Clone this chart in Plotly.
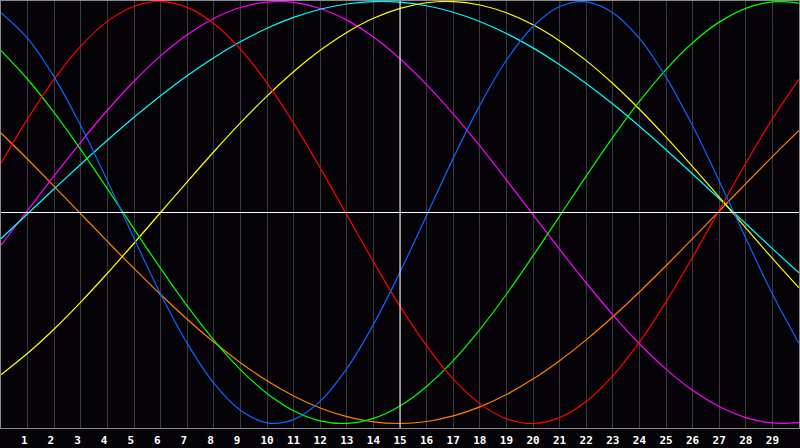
import plotly.graph_objects as go

# Day positions (x) at which the curve values were read
DAYS = list(range(0, 31))

# Curve values at each day 0..30 (range -1..1)
RED = [0.2334, 0.4440, 0.6322, 0.7888, 0.9058, 0.9774, 0.9999, 0.9724, 0.8961, 0.7747,
       0.6147, 0.4237, 0.2115, -0.0112, -0.2334, -0.4440, -0.6322, -0.7888, -0.9058, -0.9774,
       -0.9999, -0.9724, -0.8961, -0.7747, -0.6147, -0.4237, -0.2115, 0.0112, 0.2334, 0.4440, 0.6322]
ORANGE = [0.3766, 0.2525, 0.1240, -0.0065, -0.1370, -0.2651, -0.3887, -0.5057, -0.6140, -0.7117,
          -0.7973, -0.8693, -0.9264, -0.9676, -0.9923, -1.0000, -0.9906, -0.9642, -0.9214, -0.8628,
          -0.7894, -0.7025, -0.6037, -0.4943, -0.3766, -0.2525, -0.1240, 0.0065, 0.1370, 0.2651, 0.3887]
BLUE = [0.9468, 0.8249, 0.6417, 0.4110, 0.1497, -0.1226, -0.3858, -0.6202, -0.8089, -0.9376,
        -0.9966, -0.9818, -0.8942, -0.7399, -0.5313, -0.2830, -0.0138, 0.2565, 0.5078, 0.7215,
        0.8814, 0.9762, 0.9985, 0.9468, 0.8249, 0.6417, 0.4110, 0.1497, -0.1226, -0.3858, -0.6202]
CYAN = [-0.1241, -0.0059, 0.1123, 0.2290, 0.3427, 0.4514, 0.5537, 0.6483, 0.7339, 0.8090,
        0.8729, 0.9245, 0.9631, 0.9881, 0.9994, 0.9966, 0.9798, 0.9492, 0.9053, 0.8487,
        0.7802, 0.7008, 0.6116, 0.5138, 0.4085, 0.2977, 0.1828, 0.0652, -0.0534, -0.1711, -0.2863]
YELLOW = [-0.7686, -0.6673, -0.5519, -0.4245, -0.2880, -0.1456, 0.0000, 0.1456, 0.2880, 0.4245,
          0.5519, 0.6673, 0.7686, 0.8536, 0.9204, 0.9675, 0.9940, 0.9993, 0.9834, 0.9465,
          0.8894, 0.8134, 0.7199, 0.6112, 0.4894, 0.3572, 0.2174, 0.0731, -0.0731, -0.2174, -0.3572]
GREEN = [0.7668, 0.6315, 0.4734, 0.2982, 0.1122, -0.0779, -0.2652, -0.4429, -0.6046, -0.7444,
         -0.8574, -0.9393, -0.9873, -0.9995, -0.9757, -0.9166, -0.8245, -0.7024, -0.5550, -0.3875,
         -0.2060, -0.0171, 0.1725, 0.3557, 0.5262, 0.6775, 0.8044, 0.9023, 0.9676, 0.9979, 0.9921]
MAGENTA = [-0.1549, 0.0099, 0.1743, 0.3341, 0.4847, 0.6221, 0.7424, 0.8425, 0.9197, 0.9718,
           0.9974, 0.9957, 0.9669, 0.9118, 0.8317, 0.7290, 0.6063, 0.4672, 0.3153, 0.1549,
           -0.0099, -0.1743, -0.3341, -0.4847, -0.6221, -0.7424, -0.8425, -0.9197, -0.9718, -0.9974, -0.9957]

TICK_DAYS = list(range(1, 30))
TICK_LABELS = [str(d) for d in TICK_DAYS]
TODAY = 15

series = [
    (ORANGE, "#ff8000"),
    (MAGENTA, "#ff00ff"),
    (CYAN, "#00ffff"),
    (YELLOW, "#ffff00"),
    (GREEN, "#00ff00"),
    (RED, "#ff0000"),
    (BLUE, "#0a66ff"),
]

fig = go.Figure()
for vals, col in series:
    fig.add_trace(go.Scatter(x=DAYS, y=vals, mode="lines",
                             line=dict(color=col, width=1.2, shape="spline", smoothing=1),
                             hoverinfo="skip"))

# pad single-digit labels so their visible digit sits left of the grid line
ticktext = [t + "\u00a0" if len(t) == 1 else t for t in TICK_LABELS]

BG = "#050308"
fig.update_layout(
    width=800, height=448,
    margin=dict(l=1, r=1, t=1, b=20, pad=0),
    paper_bgcolor=BG, plot_bgcolor=BG,
    showlegend=False,
    xaxis=dict(range=[0, 30], tickvals=TICK_DAYS, ticktext=ticktext,
               showgrid=True, gridcolor="#3a3a3a", gridwidth=1,
               zeroline=False, ticks="", showline=True, mirror=True,
               linecolor="#8a8a8a", linewidth=1, ticklabelstandoff=2,
               tickfont=dict(family="DejaVu Sans Mono", size=11, color="#ffffff", weight="bold"),
               fixedrange=True),
    yaxis=dict(range=[-1.0213, 1.0024], showgrid=False, zeroline=False,
               showticklabels=False, ticks="", showline=True, mirror=True,
               linecolor="#8a8a8a", linewidth=1, fixedrange=True),
    shapes=[
        dict(type="line", xref="x", yref="y", x0=TODAY, x1=TODAY, y0=-1.0213, y1=1.0024,
             line=dict(color="#ffffff", width=1), layer="above"),
        dict(type="line", xref="x", yref="y", x0=0, x1=30, y0=0, y1=0,
             line=dict(color="#ffffff", width=1), layer="above"),
    ],
)

fig.write_html("out.html", config={"displayModeBar": False, "staticPlot": True},
               post_script="document.body.style.margin='0';document.body.style.padding='0';"
                           "document.body.style.overflow='hidden';")
